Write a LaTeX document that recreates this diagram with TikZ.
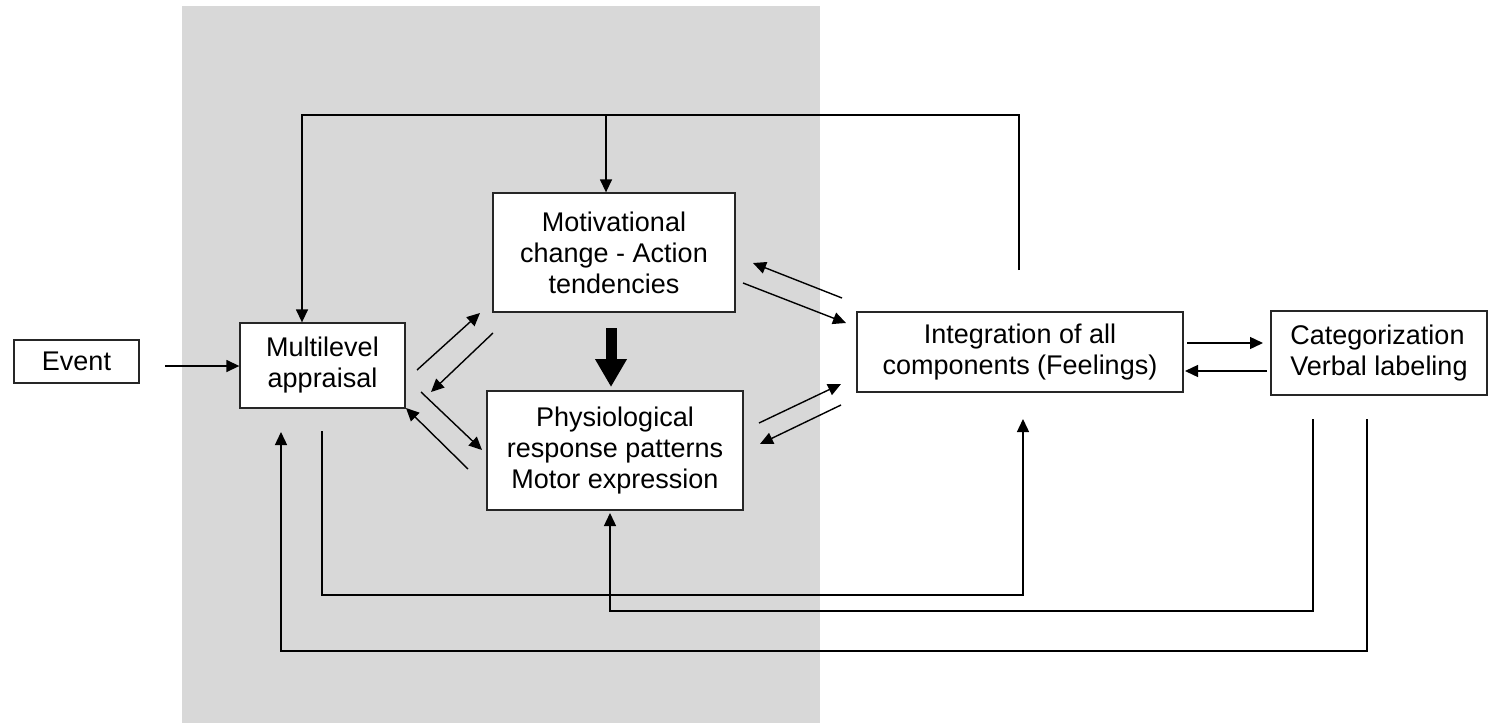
\documentclass[tikz,border=0pt]{standalone}
\usepackage{fontspec}
\setmainfont{Liberation Sans}
\usetikzlibrary{arrows.meta}
\definecolor{panelgrey}{HTML}{D8D8D8}
\begin{document}
\begin{tikzpicture}[x=1pt,y=-1pt,
  box/.style={draw=black!85, line width=1.3pt, fill=white, inner sep=0pt, align=center, font=\fontsize{27}{31}\selectfont},
  conn/.style={line width=1.4pt, -{Triangle[length=13pt,width=12pt]}},
  plain/.style={line width=1.4pt},
  heavy/.style={line width=11pt, -{Triangle[length=28pt,width=30pt]}}]
\useasboundingbox (0,0) rectangle (1491,723);
\fill[panelgrey] (182,6) rectangle (820,723);
% boxes
\node[box, minimum width=125pt, minimum height=43pt] (event) at (76.5,361.5) {Event};
\node[box, minimum width=165pt, minimum height=85pt] (appr) at (322.5,365.5) {Multilevel\\appraisal};
\node[box, minimum width=242pt, minimum height=119pt] (mot) at (614,252.5) {Motivational\\change - Action\\tendencies};
\node[box, minimum width=256pt, minimum height=119pt] (phys) at (615,450.5) {Physiological\\response patterns\\Motor expression};
\node[box, minimum width=326pt, minimum height=80pt] (integ) at (1020,352) {Integration of all\\components (Feelings)};
\node[box, minimum width=216pt, minimum height=84pt, align=left] (cat) at (1379,353) {Categorization\\Verbal labeling};
% event -> appraisal
\coordinate (e1) at (165,366);
\draw[conn] (e1) -- (appr.west |- e1);
% appraisal <-> motivational / physiological
\coordinate (a1s) at (417,370); \coordinate (a1e) at (480,313);
\coordinate (a2s) at (493,333); \coordinate (a2e) at (431,392);
\coordinate (a3s) at (421,392); \coordinate (a3e) at (482,450);
\coordinate (a4s) at (468,469); \coordinate (a4e) at (406,408);
\draw[conn] (a1s) -- (a1e);
\draw[conn] (a2s) -- (a2e);
\draw[conn] (a3s) -- (a3e);
\draw[conn] (a4s) -- (a4e);
% motivational / physiological <-> integration
\coordinate (b1s) at (842,298); \coordinate (b1e) at (753,263);
\coordinate (b2s) at (743,283); \coordinate (b2e) at (846,323);
\coordinate (b3s) at (759,423); \coordinate (b3e) at (841,384);
\coordinate (b4s) at (841,405); \coordinate (b4e) at (760,444);
\draw[conn] (b1s) -- (b1e);
\draw[conn] (b2s) -- (b2e);
\draw[conn] (b3s) -- (b3e);
\draw[conn] (b4s) -- (b4e);
% integration <-> categorization
\coordinate (c1s) at (1187,343); \coordinate (c1e) at (1263,343);
\coordinate (c2s) at (1267,371); \coordinate (c2e) at (1185,371);
\draw[conn] (c1s) -- (c1e);
\draw[conn] (c2s) -- (c2e);
% heavy arrow
\coordinate (h1) at (611,328); \coordinate (h2) at (611,387);
\draw[heavy] (h1) -- (h2);
% top feedback
\coordinate (t1) at (1019,270); \coordinate (t2) at (302,115); \coordinate (t3) at (606,115);
\draw[conn] (t1) |- (t2) -- (appr.north -| t2);
\draw[conn] (t3) -- (mot.north -| t3);
% bottom feedback 1: appraisal -> integration
\coordinate (f1) at (322,431); \coordinate (f1b) at (1023,595); \coordinate (f1e) at (1023,419);
\draw[conn] (f1) |- (f1b) -- (f1e);
% bottom feedback 2: categorization -> physiological
\coordinate (f2) at (1313,419); \coordinate (f2b) at (610,611); \coordinate (f2e) at (610,513);
\draw[conn] (f2) |- (f2b) -- (f2e);
% bottom feedback 3: categorization -> appraisal
\coordinate (f3) at (1367,419); \coordinate (f3b) at (281,651); \coordinate (f3e) at (281,432);
\draw[conn] (f3) |- (f3b) -- (f3e);
\end{tikzpicture}
\end{document}
